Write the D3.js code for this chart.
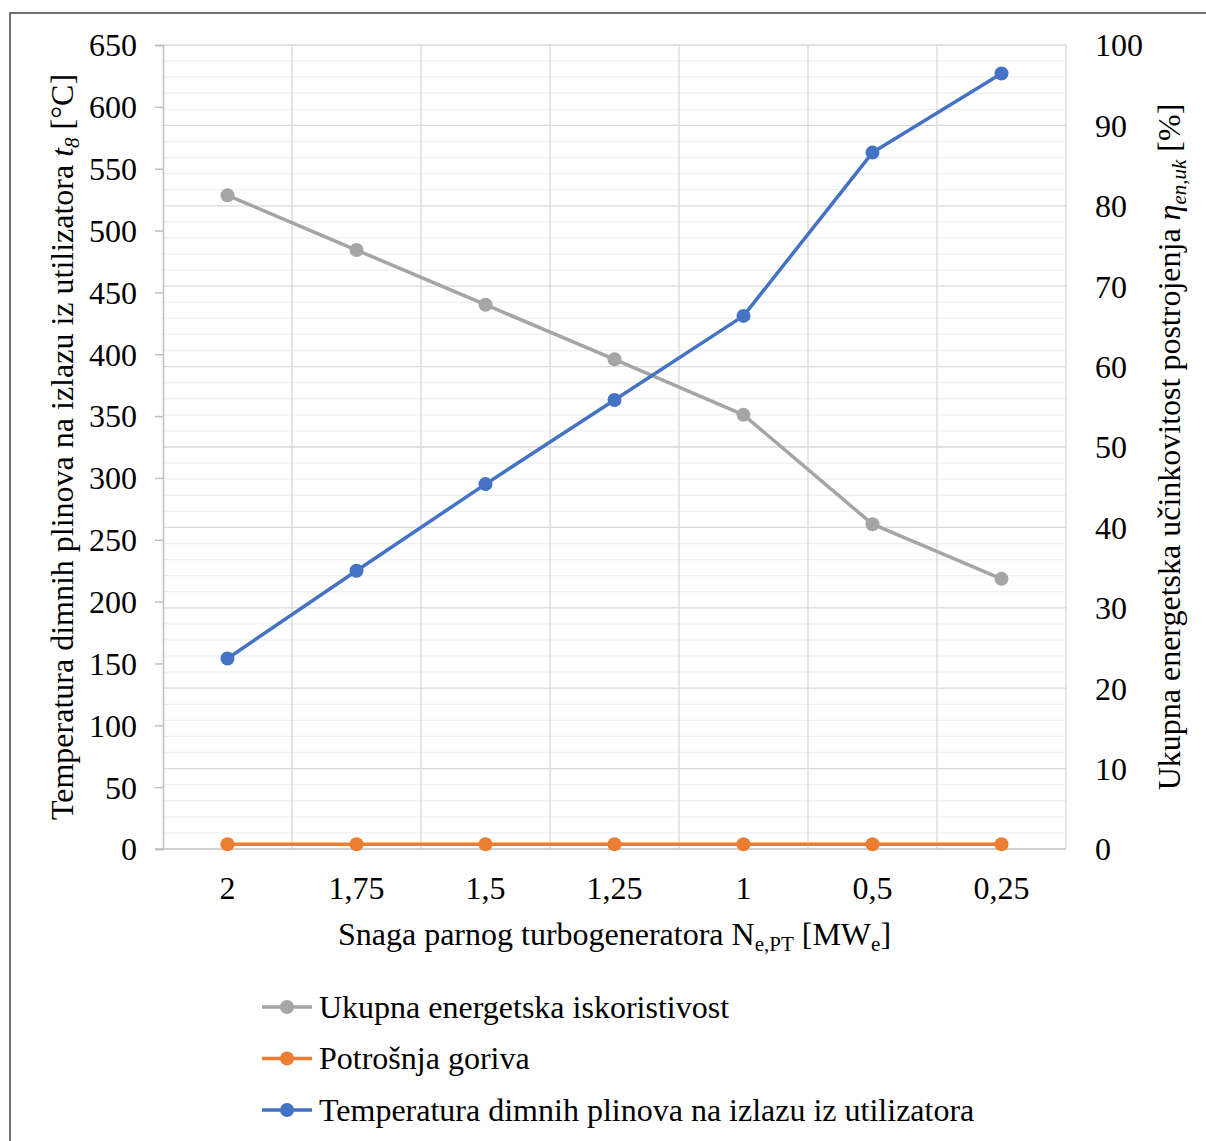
<!DOCTYPE html>
<html>
<head>
<meta charset="utf-8">
<script src="https://d3js.org/d3.v7.min.js"></script>
<style>
  body { margin: 0; background: #fff; }
  text { font-family: "Liberation Serif", "Times New Roman", serif; fill: #000; }
</style>
</head>
<body>
<script>
// categories (power of steam turbogenerator, MWe)
var categories = ["2", "1,75", "1,5", "1,25", "1", "0,5", "0,25"];
// total energy efficiency [%] - right axis
var efficiency = [81.3, 74.5, 67.7, 60.9, 54.0, 40.4, 33.6];
// fuel consumption - right axis
var fuel = [0.6, 0.6, 0.6, 0.6, 0.6, 0.6, 0.6];
// flue gas temperature at exit [°C] - left axis
var temperature = [154, 225, 295, 363, 431, 563, 627];

var leftTicks = d3.range(0, 651, 50);
var rightTicks = d3.range(0, 101, 10);

var W = 1206, H = 1141;
var pL = 163, pR = 1066, pT = 45, pB = 849;
var fs = "32px";

var svg = d3.select("body").append("svg")
    .attr("width", W)
    .attr("height", H);

svg.append("rect")
    .attr("x", 10).attr("y", 13)
    .attr("width", W).attr("height", H)
    .attr("fill", "#fff")
    .attr("stroke", "#404040")
    .attr("stroke-width", 1.5);

var x = d3.scaleBand().domain(categories).range([pL, pR]).padding(0);
var yL = d3.scaleLinear().domain([0, 650]).range([pB, pT]);
var yR = d3.scaleLinear().domain([0, 100]).range([pB, pT]);

// minor gridlines (every 2 on right axis)
svg.append("g").selectAll("line")
    .data(d3.range(0, 101, 2).filter(function(d){ return d % 10 != 0; }))
    .join("line")
    .attr("x1", pL).attr("x2", pR)
    .attr("y1", function(d){ return yR(d); })
    .attr("y2", function(d){ return yR(d); })
    .attr("stroke", "#f0f0f0")
    .attr("stroke-width", 1.3);

// major gridlines
svg.append("g").selectAll("line")
    .data(rightTicks.slice(1))
    .join("line")
    .attr("x1", pL).attr("x2", pR)
    .attr("y1", function(d){ return yR(d); })
    .attr("y2", function(d){ return yR(d); })
    .attr("stroke", "#d9d9d9")
    .attr("stroke-width", 1.3);

// vertical gridlines at category boundaries
var bounds = categories.map(function(c){ return x(c); }).concat([pR]);
svg.append("g").selectAll("line")
    .data(bounds.slice(1))
    .join("line")
    .attr("x1", function(d){ return d; }).attr("x2", function(d){ return d; })
    .attr("y1", pT).attr("y2", pB)
    .attr("stroke", "#d9d9d9")
    .attr("stroke-width", 1.3);

// left axis
var gL = svg.append("g").attr("transform", "translate(" + pL + ",0)")
    .call(d3.axisLeft(yL).tickValues(leftTicks).tickSize(8).tickPadding(18));
gL.select(".domain").attr("stroke", "#bfbfbf").attr("stroke-width", 1.5);
gL.selectAll(".tick line").attr("stroke", "#bfbfbf").attr("stroke-width", 1.5);
gL.selectAll(".tick text").style("font-size", fs).style("font-family", "Liberation Serif").attr("dy", "0.34em");

// bottom axis
var gB = svg.append("g").attr("transform", "translate(0," + pB + ")")
    .call(d3.axisBottom(x).tickSize(0).tickPadding(27));
gB.select(".domain").attr("stroke", "#bfbfbf").attr("stroke-width", 1.5)
    .attr("d", "M" + (pL - 8) + ",0H" + pR);
gB.selectAll(".tick text").style("font-size", fs).style("font-family", "Liberation Serif").attr("dy", "0.72em");

// right axis
var gR = svg.append("g").attr("transform", "translate(" + pR + ",0)")
    .call(d3.axisRight(yR).tickValues(rightTicks).tickSize(0).tickPadding(29));
gR.select(".domain").remove();
gR.selectAll(".tick text").style("font-size", fs).style("font-family", "Liberation Serif").attr("dy", "0.34em");

// series
var series = [
  {name: "Ukupna energetska iskoristivost", values: efficiency, color: "#a5a5a5", y: yR},
  {name: "Potrošnja goriva", values: fuel, color: "#ed7d31", y: yR},
  {name: "Temperatura dimnih plinova na izlazu iz utilizatora", values: temperature, color: "#4472c4", y: yL}
];

series.forEach(function(s){
  var line = d3.line()
      .x(function(d, i){ return x(categories[i]) + x.bandwidth() / 2; })
      .y(function(d){ return s.y(d); });
  svg.append("path")
      .attr("d", line(s.values))
      .attr("fill", "none")
      .attr("stroke", s.color)
      .attr("stroke-width", 3.5)
      .attr("stroke-linejoin", "round");
  svg.append("g").selectAll("circle")
      .data(s.values)
      .join("circle")
      .attr("cx", function(d, i){ return x(categories[i]) + x.bandwidth() / 2; })
      .attr("cy", function(d){ return s.y(d); })
      .attr("r", 7)
      .attr("fill", s.color);
});

// axis titles
var tl = svg.append("text")
    .attr("transform", "translate(73," + ((pT + pB) / 2) + ") rotate(-90)")
    .attr("text-anchor", "middle")
    .style("font-size", fs);
tl.append("tspan").text("Temperatura dimnih plinova na izlazu iz utilizatora ");
tl.append("tspan").attr("font-style", "italic").text("t");
tl.append("tspan").attr("font-style", "italic").attr("font-size", "21px").attr("dy", 6).text("8");
tl.append("tspan").attr("dy", -6).text(" [°C]");

var tr = svg.append("text")
    .attr("transform", "translate(1180," + ((pT + pB) / 2) + ") rotate(-90)")
    .attr("text-anchor", "middle")
    .style("font-size", fs);
tr.append("tspan").text("Ukupna energetska učinkovitost postrojenja ");
tr.append("tspan").attr("font-style", "italic").text("η");
tr.append("tspan").attr("font-style", "italic").attr("font-size", "21px").attr("dy", 6).text("en,uk");
tr.append("tspan").attr("dy", -6).text(" [%]");

var tx = svg.append("text")
    .attr("x", (pL + pR) / 2).attr("y", 945)
    .attr("text-anchor", "middle")
    .style("font-size", fs);
tx.append("tspan").text("Snaga parnog turbogeneratora N");
tx.append("tspan").attr("font-size", "21px").attr("dy", 6).text("e,PT");
tx.append("tspan").attr("dy", -6).text(" [MW");
tx.append("tspan").attr("font-size", "21px").attr("dy", 6).text("e");
tx.append("tspan").attr("dy", -6).text("]");

// legend
var legend = svg.append("g").selectAll("g")
    .data(series)
    .join("g")
    .attr("transform", function(d, i){ return "translate(262," + (1007 + i * 51.5) + ")"; });
legend.append("line")
    .attr("x1", 0).attr("x2", 50)
    .attr("stroke", function(d){ return d.color; })
    .attr("stroke-width", 3.5);
legend.append("circle")
    .attr("cx", 25).attr("r", 7)
    .attr("fill", function(d){ return d.color; });
legend.append("text")
    .attr("x", 57).attr("dy", "0.34em")
    .style("font-size", fs)
    .text(function(d){ return d.name; });
</script>
</body>
</html>
